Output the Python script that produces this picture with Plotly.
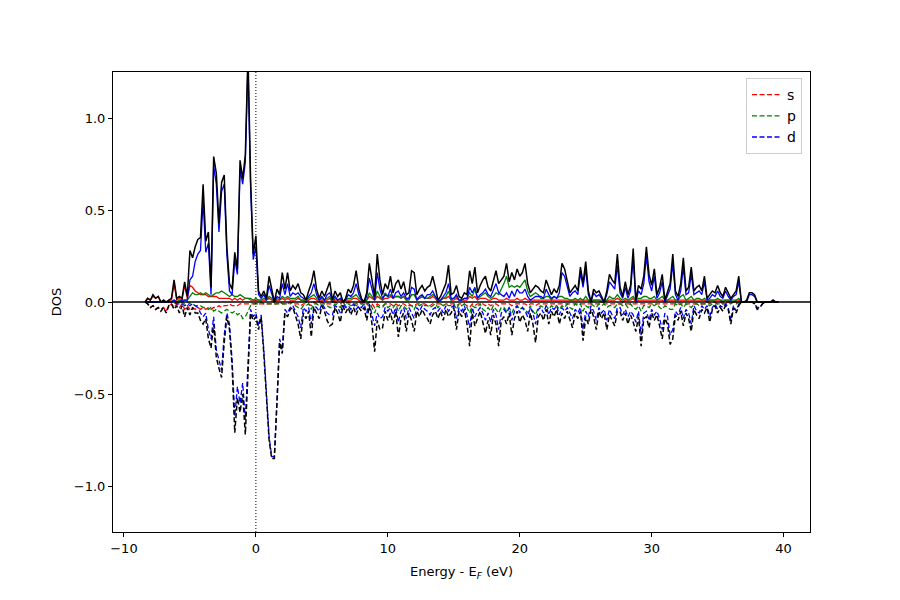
import numpy as np
import plotly.graph_objects as go

# Energy grid (eV), 0.2 eV step from -8.4 to 39.6
energy = np.linspace(-8.4, 39.6, 241)

# ---------------- spin up (solid) ----------------
tot_up = [
    0.00, 0.02, 0.01, 0.04, 0.02, 0.03, 0.00, 0.01, 0.00, 0.01,
    0.02, 0.12, 0.02, 0.03, 0.02, 0.11, 0.03, 0.28, 0.24, 0.30,
    0.34, 0.35, 0.64, 0.33, 0.38, 0.08, 0.79, 0.70, 0.43, 0.65,
    0.69, 0.30, 0.10, 0.07, 0.27, 0.18, 0.77, 0.67, 0.80, 1.35,
    0.66, 0.26, 0.36, 0.06, 0.03, 0.06, 0.02, 0.14, 0.06, 0.00,
    0.07, 0.04, 0.16, 0.07, 0.16, 0.06, 0.09, 0.07, 0.10, 0.05,
    0.04, 0.01, 0.06, 0.10, 0.17, 0.07, 0.02, 0.06, 0.03, 0.07,
    0.11, 0.01, 0.06, 0.03, 0.05, 0.00, 0.02, 0.07, 0.05, 0.09,
    0.17, 0.07, 0.02, 0.00, 0.05, 0.21, 0.12, 0.03, 0.26, 0.12,
    0.04, 0.10, 0.07, 0.14, 0.05, 0.10, 0.12, 0.07, 0.11, 0.04,
    0.05, 0.17, 0.16, 0.04, 0.07, 0.09, 0.06, 0.08, 0.09, 0.14,
    0.08, 0.01, 0.03, 0.07, 0.10, 0.20, 0.04, 0.05, 0.09, 0.03,
    0.02, 0.05, 0.04, 0.17, 0.10, 0.19, 0.05, 0.09, 0.12, 0.14,
    0.08, 0.06, 0.12, 0.17, 0.10, 0.12, 0.14, 0.21, 0.11, 0.16,
    0.12, 0.18, 0.14, 0.16, 0.21, 0.10, 0.05, 0.07, 0.09, 0.08,
    0.06, 0.05, 0.12, 0.08, 0.04, 0.07, 0.05, 0.09, 0.21, 0.18,
    0.12, 0.05, 0.07, 0.09, 0.06, 0.19, 0.10, 0.22, 0.06, 0.00,
    0.07, 0.05, 0.06, 0.03, 0.00, 0.06, 0.15, 0.12, 0.10, 0.26,
    0.08, 0.03, 0.11, 0.04, 0.09, 0.29, 0.01, 0.09, 0.07, 0.14,
    0.30, 0.15, 0.09, 0.18, 0.04, 0.08, 0.15, 0.01, 0.06, 0.10,
    0.26, 0.06, 0.03, 0.10, 0.24, 0.06, 0.08, 0.19, 0.06, 0.08,
    0.09, 0.06, 0.14, 0.02, 0.04, 0.06, 0.05, 0.09, 0.05, 0.03,
    0.08, 0.05, 0.02, 0.04, 0.06, 0.14, 0.00, 0.00, 0.01, 0.05,
    0.05, 0.04, 0.00, 0.00, 0.00, 0.00, 0.00, 0.00, 0.01, 0.00,
    0.00,
]

s_up = [
    0.00, 0.02, 0.01, 0.03, 0.02, 0.03, 0.00, 0.01, 0.00, 0.01,
    0.01, 0.10, 0.01, 0.02, 0.01, 0.09, 0.02, 0.09, 0.08, 0.06,
    0.05, 0.04, 0.04, 0.04, 0.03, 0.03, 0.03, 0.03, 0.02, 0.02,
    0.02, 0.02, 0.02, 0.01, 0.02, 0.01, 0.02, 0.01, 0.02, 0.02,
    0.01, 0.01, 0.01, 0.01, 0.01, 0.01, 0.01, 0.02, 0.01, 0.00,
    0.01, 0.01, 0.02, 0.01, 0.02, 0.01, 0.01, 0.01, 0.02, 0.01,
    0.01, 0.00, 0.01, 0.02, 0.02, 0.01, 0.00, 0.01, 0.01, 0.01,
    0.02, 0.00, 0.01, 0.01, 0.01, 0.00, 0.01, 0.01, 0.01, 0.02,
    0.02, 0.01, 0.00, 0.00, 0.01, 0.03, 0.02, 0.01, 0.03, 0.02,
    0.01, 0.02, 0.02, 0.03, 0.02, 0.03, 0.03, 0.02, 0.03, 0.01,
    0.02, 0.04, 0.04, 0.02, 0.02, 0.03, 0.02, 0.02, 0.02, 0.03,
    0.02, 0.00, 0.01, 0.02, 0.02, 0.03, 0.01, 0.01, 0.02, 0.01,
    0.01, 0.01, 0.01, 0.03, 0.02, 0.03, 0.01, 0.02, 0.02, 0.02,
    0.01, 0.01, 0.02, 0.02, 0.01, 0.01, 0.01, 0.02, 0.01, 0.01,
    0.01, 0.02, 0.01, 0.01, 0.02, 0.01, 0.01, 0.01, 0.01, 0.01,
    0.01, 0.01, 0.01, 0.01, 0.01, 0.01, 0.01, 0.01, 0.01, 0.01,
    0.01, 0.01, 0.01, 0.01, 0.01, 0.01, 0.01, 0.01, 0.01, 0.00,
    0.01, 0.01, 0.01, 0.00, 0.00, 0.01, 0.01, 0.01, 0.01, 0.02,
    0.01, 0.00, 0.01, 0.01, 0.01, 0.02, 0.00, 0.01, 0.01, 0.01,
    0.01, 0.01, 0.01, 0.01, 0.01, 0.01, 0.01, 0.00, 0.01, 0.01,
    0.01, 0.01, 0.01, 0.01, 0.01, 0.01, 0.01, 0.01, 0.01, 0.01,
    0.01, 0.01, 0.01, 0.00, 0.01, 0.01, 0.01, 0.01, 0.01, 0.00,
    0.01, 0.01, 0.00, 0.00, 0.01, 0.01, 0.00, 0.00, 0.00, 0.00,
    0.00, 0.00, 0.00, 0.00, 0.00, 0.00, 0.00, 0.00, 0.00, 0.00,
    0.00,
]

p_up = [
    0.00, 0.00, 0.00, 0.00, 0.00, 0.00, 0.00, 0.00, 0.00, 0.00,
    0.00, 0.01, 0.00, 0.01, 0.00, 0.01, 0.01, 0.03, 0.05, 0.04,
    0.04, 0.05, 0.04, 0.05, 0.04, 0.03, 0.04, 0.05, 0.05, 0.06,
    0.05, 0.04, 0.03, 0.04, 0.03, 0.03, 0.04, 0.03, 0.02, 0.02,
    0.02, 0.01, 0.02, 0.01, 0.01, 0.02, 0.01, 0.03, 0.02, 0.00,
    0.02, 0.01, 0.03, 0.02, 0.03, 0.02, 0.02, 0.02, 0.03, 0.01,
    0.01, 0.00, 0.02, 0.03, 0.04, 0.02, 0.01, 0.02, 0.01, 0.02,
    0.03, 0.00, 0.02, 0.01, 0.02, 0.00, 0.01, 0.02, 0.02, 0.03,
    0.04, 0.02, 0.01, 0.00, 0.01, 0.05, 0.03, 0.01, 0.06, 0.03,
    0.01, 0.05, 0.03, 0.04, 0.02, 0.03, 0.03, 0.02, 0.03, 0.01,
    0.01, 0.04, 0.04, 0.01, 0.02, 0.03, 0.02, 0.02, 0.03, 0.04,
    0.03, 0.00, 0.01, 0.02, 0.03, 0.06, 0.01, 0.02, 0.03, 0.01,
    0.01, 0.02, 0.02, 0.05, 0.03, 0.07, 0.02, 0.03, 0.04, 0.05,
    0.03, 0.02, 0.03, 0.05, 0.04, 0.07, 0.10, 0.14, 0.08, 0.09,
    0.08, 0.09, 0.08, 0.10, 0.12, 0.06, 0.03, 0.04, 0.05, 0.04,
    0.02, 0.02, 0.03, 0.03, 0.01, 0.03, 0.02, 0.03, 0.03, 0.02,
    0.02, 0.01, 0.01, 0.02, 0.01, 0.02, 0.01, 0.03, 0.01, 0.00,
    0.01, 0.01, 0.01, 0.01, 0.00, 0.01, 0.03, 0.02, 0.02, 0.04,
    0.02, 0.01, 0.02, 0.01, 0.02, 0.03, 0.01, 0.02, 0.02, 0.03,
    0.03, 0.02, 0.02, 0.03, 0.01, 0.02, 0.03, 0.01, 0.01, 0.02,
    0.03, 0.01, 0.01, 0.03, 0.04, 0.01, 0.02, 0.03, 0.01, 0.02,
    0.02, 0.01, 0.02, 0.01, 0.01, 0.01, 0.01, 0.02, 0.01, 0.01,
    0.01, 0.01, 0.01, 0.01, 0.01, 0.02, 0.00, 0.00, 0.00, 0.00,
    0.00, 0.00, 0.00, 0.00, 0.00, 0.00, 0.00, 0.00, 0.00, 0.00,
    0.00,
]

d_up = [
    0.00, 0.00, 0.00, 0.00, 0.00, 0.00, 0.00, 0.00, 0.00, 0.00,
    0.00, 0.01, 0.00, 0.00, 0.01, 0.01, 0.01, 0.12, 0.14, 0.22,
    0.26, 0.28, 0.55, 0.27, 0.32, 0.04, 0.74, 0.64, 0.38, 0.60,
    0.64, 0.26, 0.06, 0.04, 0.23, 0.15, 0.72, 0.64, 0.76, 1.30,
    0.62, 0.23, 0.30, 0.04, 0.02, 0.04, 0.01, 0.09, 0.04, 0.00,
    0.03, 0.02, 0.10, 0.04, 0.10, 0.03, 0.05, 0.04, 0.05, 0.03,
    0.02, 0.01, 0.03, 0.05, 0.10, 0.04, 0.01, 0.03, 0.01, 0.04,
    0.05, 0.01, 0.03, 0.01, 0.02, 0.00, 0.01, 0.04, 0.03, 0.05,
    0.10, 0.04, 0.01, 0.00, 0.03, 0.13, 0.07, 0.01, 0.16, 0.07,
    0.02, 0.04, 0.03, 0.07, 0.02, 0.05, 0.06, 0.03, 0.05, 0.02,
    0.02, 0.08, 0.07, 0.01, 0.03, 0.04, 0.02, 0.04, 0.04, 0.06,
    0.03, 0.01, 0.01, 0.03, 0.05, 0.10, 0.02, 0.02, 0.04, 0.01,
    0.01, 0.02, 0.02, 0.08, 0.05, 0.08, 0.02, 0.04, 0.05, 0.07,
    0.04, 0.03, 0.07, 0.10, 0.05, 0.04, 0.03, 0.05, 0.02, 0.06,
    0.03, 0.07, 0.05, 0.05, 0.07, 0.03, 0.01, 0.02, 0.03, 0.03,
    0.03, 0.02, 0.07, 0.04, 0.02, 0.03, 0.02, 0.05, 0.16, 0.14,
    0.09, 0.03, 0.05, 0.06, 0.04, 0.16, 0.08, 0.18, 0.04, 0.00,
    0.05, 0.03, 0.04, 0.02, 0.00, 0.04, 0.11, 0.09, 0.07, 0.20,
    0.05, 0.02, 0.08, 0.02, 0.06, 0.24, 0.00, 0.06, 0.04, 0.10,
    0.25, 0.11, 0.06, 0.14, 0.02, 0.05, 0.11, 0.00, 0.04, 0.07,
    0.21, 0.04, 0.01, 0.06, 0.19, 0.04, 0.05, 0.15, 0.04, 0.05,
    0.06, 0.04, 0.11, 0.01, 0.02, 0.04, 0.03, 0.06, 0.03, 0.02,
    0.06, 0.03, 0.01, 0.03, 0.04, 0.11, 0.00, 0.00, 0.00, 0.04,
    0.04, 0.03, 0.00, 0.00, 0.00, 0.00, 0.00, 0.00, 0.01, 0.00,
    0.00,
]

# ---------------- spin down (dashed) ----------------
tot_dn = [
    0.00, -0.01, -0.03, -0.02, -0.04, -0.03, -0.05, -0.03, -0.06, -0.02,
    -0.01, -0.04, -0.02, -0.06, -0.02, -0.08, -0.03, -0.07, -0.03, -0.06,
    -0.06, -0.10, -0.12, -0.09, -0.20, -0.25, -0.12, -0.30, -0.36, -0.41,
    -0.22, -0.08, -0.15, -0.35, -0.71, -0.52, -0.60, -0.50, -0.72, -0.40,
    -0.06, -0.10, -0.08, -0.15, -0.08, -0.28, -0.50, -0.75, -0.85, -0.85,
    -0.55, -0.22, -0.28, -0.06, -0.08, -0.04, -0.03, -0.08, -0.12, -0.20,
    -0.06, -0.09, -0.05, -0.19, -0.03, -0.06, -0.09, -0.02, -0.05, -0.10,
    -0.13, -0.12, -0.03, -0.06, -0.11, -0.02, -0.06, -0.03, -0.07, -0.03,
    -0.07, -0.03, -0.05, -0.03, -0.10, -0.02, -0.12, -0.27, -0.10, -0.15,
    -0.14, -0.05, -0.10, -0.06, -0.12, -0.05, -0.19, -0.09, -0.06, -0.16,
    -0.06, -0.10, -0.16, -0.05, -0.08, -0.04, -0.07, -0.09, -0.12, -0.07,
    -0.05, -0.09, -0.05, -0.10, -0.04, -0.08, -0.06, -0.03, -0.15, -0.05,
    -0.08, -0.04, -0.12, -0.24, -0.06, -0.13, -0.09, -0.05, -0.11, -0.17,
    -0.10, -0.18, -0.07, -0.12, -0.24, -0.10, -0.08, -0.12, -0.06, -0.18,
    -0.09, -0.05, -0.11, -0.07, -0.10, -0.16, -0.06, -0.12, -0.22, -0.08,
    -0.06, -0.10, -0.04, -0.12, -0.05, -0.08, -0.04, -0.12, -0.06, -0.09,
    -0.05, -0.10, -0.14, -0.06, -0.09, -0.05, -0.21, -0.08, -0.12, -0.04,
    -0.08, -0.15, -0.05, -0.09, -0.06, -0.15, -0.07, -0.10, -0.13, -0.05,
    -0.05, -0.10, -0.06, -0.12, -0.07, -0.11, -0.16, -0.08, -0.24, -0.09,
    -0.08, -0.14, -0.06, -0.10, -0.07, -0.13, -0.20, -0.09, -0.12, -0.23,
    -0.20, -0.07, -0.10, -0.05, -0.13, -0.06, -0.09, -0.16, -0.04, -0.07,
    -0.09, -0.04, -0.06, -0.03, -0.11, -0.04, -0.02, -0.06, -0.03, -0.05,
    -0.02, -0.04, -0.12, -0.03, -0.06, -0.02, 0.00, 0.00, 0.00, 0.00,
    0.00, -0.01, -0.04, -0.03, -0.01, 0.00, 0.00, 0.00, 0.00, 0.00,
    0.00,
]

s_dn = [
    0.00, -0.01, -0.03, -0.02, -0.04, -0.03, -0.04, -0.03, -0.05, -0.02,
    -0.01, -0.03, -0.01, -0.03, -0.01, -0.04, -0.02, -0.04, -0.03, -0.04,
    -0.03, -0.04, -0.03, -0.04, -0.03, -0.04, -0.03, -0.03, -0.02, -0.03,
    -0.02, -0.02, -0.01, -0.02, -0.02, -0.02, -0.01, -0.01, -0.01, -0.01,
    -0.01, -0.01, -0.01, -0.01, -0.01, -0.01, -0.01, -0.01, -0.01, -0.01,
    -0.01, 0.00, -0.01, -0.01, -0.01, 0.00, -0.01, -0.01, -0.01, -0.02,
    -0.01, -0.01, -0.01, -0.02, 0.00, -0.01, -0.01, 0.00, -0.01, -0.01,
    -0.01, -0.01, 0.00, -0.01, -0.01, 0.00, -0.01, 0.00, -0.01, -0.01,
    -0.01, 0.00, -0.01, 0.00, -0.01, 0.00, -0.01, -0.03, -0.01, -0.02,
    -0.02, -0.01, -0.01, -0.01, -0.02, -0.01, -0.02, -0.01, -0.01, -0.02,
    -0.01, -0.02, -0.02, -0.01, -0.01, -0.01, -0.01, -0.02, -0.02, -0.01,
    -0.01, -0.01, -0.01, -0.02, -0.01, -0.01, -0.01, -0.01, -0.02, -0.01,
    -0.01, -0.01, -0.02, -0.03, -0.01, -0.02, -0.01, -0.01, -0.01, -0.02,
    -0.01, -0.02, -0.01, -0.01, -0.02, -0.01, -0.01, -0.01, -0.01, -0.02,
    -0.01, -0.01, -0.01, -0.01, -0.01, -0.02, -0.01, -0.01, -0.02, -0.01,
    -0.01, -0.01, -0.01, -0.01, -0.01, -0.01, -0.01, -0.01, -0.01, -0.01,
    -0.01, -0.01, -0.01, -0.01, -0.01, -0.01, -0.01, -0.01, -0.01, -0.01,
    -0.01, -0.01, -0.01, -0.01, -0.01, -0.01, -0.01, -0.01, -0.01, -0.01,
    -0.01, -0.01, -0.01, -0.01, -0.01, -0.01, -0.01, -0.01, -0.01, -0.01,
    -0.01, -0.01, -0.01, -0.01, -0.01, -0.01, -0.01, -0.01, -0.01, -0.01,
    -0.01, -0.01, -0.01, -0.01, -0.01, -0.01, -0.01, -0.01, -0.01, -0.01,
    -0.01, -0.01, -0.01, 0.00, -0.01, 0.00, 0.00, -0.01, 0.00, -0.01,
    0.00, 0.00, -0.01, 0.00, 0.00, 0.00, 0.00, 0.00, 0.00, 0.00,
    0.00, 0.00, 0.00, 0.00, 0.00, 0.00, 0.00, 0.00, 0.00, 0.00,
    0.00,
]

p_dn = [
    0.00, 0.00, 0.00, 0.00, 0.00, 0.00, 0.00, 0.00, 0.00, 0.00,
    0.00, -0.01, 0.00, -0.01, 0.00, -0.01, 0.00, -0.01, -0.01, -0.02,
    -0.02, -0.02, -0.03, -0.03, -0.04, -0.03, -0.05, -0.04, -0.05, -0.06,
    -0.05, -0.04, -0.05, -0.06, -0.05, -0.07, -0.06, -0.09, -0.08, -0.05,
    -0.02, -0.01, -0.01, -0.01, 0.00, -0.01, -0.01, -0.01, -0.01, -0.01,
    -0.01, -0.01, -0.01, -0.01, -0.01, -0.01, 0.00, -0.02, -0.03, -0.04,
    -0.02, -0.02, -0.01, -0.04, -0.01, -0.01, -0.02, -0.01, -0.01, -0.02,
    -0.03, -0.03, -0.01, -0.02, -0.03, 0.00, -0.02, -0.01, -0.02, -0.01,
    -0.02, -0.01, -0.01, -0.01, -0.02, 0.00, -0.03, -0.06, -0.02, -0.03,
    -0.03, -0.01, -0.03, -0.02, -0.03, -0.01, -0.05, -0.02, -0.02, -0.04,
    -0.02, -0.02, -0.04, -0.01, -0.02, -0.01, -0.02, -0.02, -0.03, -0.02,
    -0.01, -0.03, -0.01, -0.02, -0.01, -0.02, -0.02, -0.01, -0.04, -0.01,
    -0.02, -0.01, -0.03, -0.06, -0.02, -0.03, -0.03, -0.01, -0.04, -0.05,
    -0.03, -0.05, -0.02, -0.04, -0.06, -0.03, -0.03, -0.05, -0.03, -0.06,
    -0.03, -0.02, -0.04, -0.03, -0.04, -0.06, -0.02, -0.05, -0.07, -0.03,
    -0.02, -0.03, -0.02, -0.04, -0.02, -0.03, -0.02, -0.04, -0.02, -0.03,
    -0.01, -0.03, -0.04, -0.01, -0.02, -0.01, -0.05, -0.02, -0.03, -0.01,
    -0.02, -0.03, -0.01, -0.02, -0.01, -0.03, -0.02, -0.02, -0.03, -0.01,
    -0.01, -0.02, -0.01, -0.03, -0.01, -0.03, -0.04, -0.02, -0.05, -0.02,
    -0.02, -0.03, -0.01, -0.02, -0.01, -0.03, -0.04, -0.02, -0.03, -0.04,
    -0.04, -0.01, -0.02, -0.01, -0.03, -0.01, -0.02, -0.03, -0.01, -0.01,
    -0.02, -0.01, -0.01, -0.01, -0.02, -0.01, -0.01, -0.01, -0.01, -0.01,
    -0.01, -0.01, -0.01, 0.00, -0.01, 0.00, 0.00, 0.00, 0.00, 0.00,
    0.00, 0.00, 0.00, 0.00, 0.00, 0.00, 0.00, 0.00, 0.00, 0.00,
    0.00,
]

d_dn = [
    0.00, 0.00, 0.00, 0.00, 0.00, 0.00, 0.00, 0.00, 0.00, 0.00,
    0.00, 0.00, -0.01, -0.01, -0.01, -0.02, -0.01, -0.02, -0.01, -0.02,
    -0.03, -0.06, -0.08, -0.06, -0.15, -0.20, -0.08, -0.26, -0.31, -0.37,
    -0.18, -0.06, -0.12, -0.32, -0.62, -0.46, -0.55, -0.44, -0.64, -0.36,
    -0.04, -0.08, -0.06, -0.13, -0.07, -0.26, -0.48, -0.73, -0.84, -0.84,
    -0.53, -0.20, -0.26, -0.04, -0.06, -0.03, -0.02, -0.05, -0.08, -0.14,
    -0.03, -0.05, -0.03, -0.12, -0.02, -0.03, -0.05, -0.01, -0.03, -0.06,
    -0.07, -0.07, -0.02, -0.03, -0.06, -0.01, -0.03, -0.02, -0.04, -0.01,
    -0.04, -0.02, -0.03, -0.01, -0.06, -0.01, -0.07, -0.13, -0.06, -0.09,
    -0.08, -0.03, -0.05, -0.03, -0.07, -0.03, -0.11, -0.05, -0.03, -0.09,
    -0.03, -0.06, -0.09, -0.03, -0.05, -0.02, -0.04, -0.05, -0.07, -0.04,
    -0.03, -0.05, -0.03, -0.06, -0.02, -0.05, -0.03, -0.02, -0.09, -0.03,
    -0.05, -0.02, -0.07, -0.14, -0.03, -0.08, -0.05, -0.03, -0.06, -0.10,
    -0.06, -0.11, -0.04, -0.07, -0.15, -0.06, -0.04, -0.06, -0.03, -0.10,
    -0.05, -0.02, -0.06, -0.03, -0.05, -0.08, -0.03, -0.06, -0.12, -0.04,
    -0.03, -0.06, -0.02, -0.07, -0.03, -0.04, -0.02, -0.07, -0.03, -0.05,
    -0.03, -0.06, -0.09, -0.04, -0.06, -0.03, -0.15, -0.05, -0.08, -0.02,
    -0.05, -0.10, -0.03, -0.06, -0.04, -0.10, -0.04, -0.07, -0.09, -0.03,
    -0.03, -0.07, -0.04, -0.08, -0.05, -0.07, -0.11, -0.05, -0.18, -0.06,
    -0.05, -0.10, -0.04, -0.07, -0.05, -0.09, -0.15, -0.06, -0.08, -0.18,
    -0.15, -0.05, -0.07, -0.03, -0.09, -0.04, -0.06, -0.12, -0.02, -0.05,
    -0.06, -0.02, -0.04, -0.02, -0.08, -0.03, -0.01, -0.04, -0.02, -0.03,
    -0.01, -0.03, -0.10, -0.02, -0.05, -0.01, 0.00, 0.00, 0.00, 0.00,
    0.00, -0.01, -0.03, -0.03, -0.01, 0.00, 0.00, 0.00, 0.00, 0.00,
    0.00,
]

colors = {"s": "#ff0000", "p": "#008000", "d": "#0000ff", "tot": "#000000"}
DASH = "5px,2.5px"
LW = 1.3

fig = go.Figure()

# spin-up components (solid)
for name, vals in [("s", s_up), ("p", p_up), ("d", d_up)]:
    fig.add_trace(go.Scatter(x=energy, y=vals, mode="lines", showlegend=False,
                             line=dict(color=colors[name], width=LW)))
# spin-down components (dashed, in legend)
for name, vals in [("s", s_dn), ("p", p_dn), ("d", d_dn)]:
    fig.add_trace(go.Scatter(x=energy, y=vals, mode="lines", name=name,
                             line=dict(color=colors[name], width=LW, dash=DASH)))
# totals
fig.add_trace(go.Scatter(x=energy, y=tot_up, mode="lines", showlegend=False,
                         line=dict(color="black", width=1.5)))
fig.add_trace(go.Scatter(x=energy, y=tot_dn, mode="lines", showlegend=False,
                         line=dict(color="black", width=1.5, dash=DASH)))

# zero line and Fermi level
fig.add_shape(type="line", xref="paper", yref="y", x0=0, x1=1, y0=0, y1=0,
              line=dict(color="black", width=1.5), layer="above")
fig.add_shape(type="line", xref="x", yref="paper", x0=0, x1=0, y0=0, y1=1,
              line=dict(color="black", width=1, dash="1px,2px"), layer="above")

axis_common = dict(showline=True, linecolor="black", linewidth=1, mirror=True,
                   ticks="outside", ticklen=4, tickwidth=1, tickcolor="black",
                   showgrid=False, zeroline=False,
                   tickfont=dict(family="DejaVu Sans", size=13, color="black"))

fig.update_layout(
    width=900, height=600,
    margin=dict(l=113, r=90, t=72, b=68),
    paper_bgcolor="white", plot_bgcolor="white",
    font=dict(family="DejaVu Sans", size=13, color="black"),
    xaxis=dict(range=[-10.83, 42.0], tickmode="array",
               tickvals=[-10, 0, 10, 20, 30, 40],
               title=dict(text="Energy - E<sub><i>F</i></sub> (eV)", standoff=12,
                          font=dict(family="DejaVu Sans", size=13)),
               **axis_common),
    yaxis=dict(range=[-1.25, 1.25], tickmode="array",
               tickvals=[-1.0, -0.5, 0.0, 0.5, 1.0], tickformat=".1f",
               title=dict(text="DOS", standoff=9,
                          font=dict(family="DejaVu Sans", size=13)),
               **axis_common),
    legend=dict(x=0.9885, y=0.987, xanchor="right", yanchor="top",
                bgcolor="rgba(255,255,255,0.8)", bordercolor="#cccccc",
                borderwidth=1, font=dict(family="DejaVu Sans", size=14),
                itemwidth=30, tracegroupgap=0),
)

fig.write_html("out.html")
